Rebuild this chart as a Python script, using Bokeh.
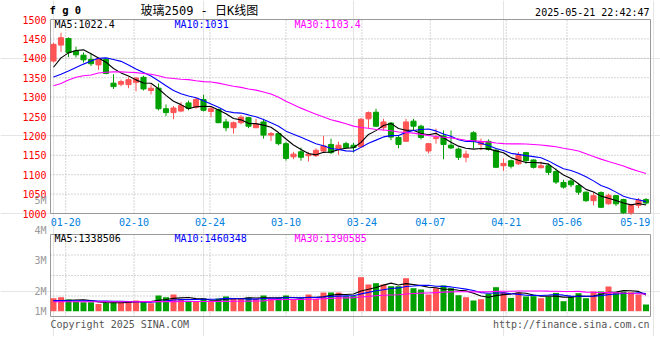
import numpy as np
from bokeh.plotting import figure
from bokeh.models import Range1d
from bokeh.embed import file_html
from bokeh.resources import INLINE
from bokeh.core.properties import value

# ---------------- data ----------------
dates = ["01-16", "01-17", "01-20", "01-21", "01-22", "01-23", "01-24", "01-27",
         "02-05", "02-06", "02-07",
         "02-10", "02-11", "02-12", "02-13", "02-14",
         "02-17", "02-18", "02-19", "02-20", "02-21",
         "02-24", "02-25", "02-26", "02-27", "02-28",
         "03-03", "03-04", "03-05", "03-06", "03-07",
         "03-10", "03-11", "03-12", "03-13", "03-14",
         "03-17", "03-18", "03-19", "03-20", "03-21",
         "03-24", "03-25", "03-26", "03-27", "03-28",
         "03-31", "04-01", "04-02", "04-03",
         "04-07", "04-08", "04-09", "04-10", "04-11",
         "04-14", "04-15", "04-16", "04-17", "04-18",
         "04-21", "04-22", "04-23", "04-24", "04-25",
         "04-28", "04-29", "04-30",
         "05-06", "05-07", "05-08", "05-09",
         "05-12", "05-13", "05-14", "05-15", "05-16",
         "05-19", "05-20", "05-21"]

opens = [1393, 1434, 1451, 1419, 1408, 1397, 1383, 1397, 1336, 1333,
         1332, 1338, 1351, 1317, 1323, 1270, 1260, 1264, 1285, 1274,
         1294, 1263, 1268, 1236, 1221, 1234, 1247, 1221, 1236, 1202,
         1206, 1180, 1146, 1159, 1149, 1149, 1161, 1178, 1166, 1180,
         1176, 1172, 1244, 1261, 1221, 1233, 1196, 1186, 1238, 1225,
         1161, 1193, 1200, 1176, 1166, 1145, 1208, 1178, 1186, 1163,
         1123, 1136, 1128, 1157, 1138, 1118, 1123, 1108, 1080, 1084,
         1072, 1055, 1033, 1054, 1025, 1046, 1036, 1002, 1021, 1036]
highs = [1440, 1466, 1454, 1430, 1415, 1411, 1402, 1400, 1359, 1345,
         1351, 1352, 1355, 1332, 1335, 1281, 1277, 1287, 1291, 1300,
         1306, 1277, 1270, 1244, 1237, 1254, 1248, 1244, 1244, 1210,
         1208, 1185, 1159, 1170, 1159, 1168, 1200, 1193, 1185, 1185,
         1182, 1246, 1263, 1270, 1244, 1236, 1202, 1244, 1244, 1229,
         1182, 1219, 1214, 1214, 1170, 1162, 1212, 1193, 1191, 1168,
         1142, 1139, 1159, 1159, 1139, 1134, 1129, 1116, 1087, 1091,
         1076, 1057, 1054, 1057, 1051, 1048, 1038, 1025, 1040, 1040]
lows = [1389, 1416, 1403, 1402, 1389, 1380, 1370, 1359, 1321, 1328,
        1323, 1315, 1317, 1307, 1266, 1251, 1243, 1261, 1266, 1270,
        1263, 1248, 1233, 1212, 1206, 1230, 1220, 1221, 1193, 1187,
        1176, 1136, 1140, 1136, 1134, 1146, 1159, 1153, 1151, 1168,
        1157, 1169, 1220, 1223, 1214, 1189, 1168, 1185, 1214, 1191,
        1155, 1180, 1140, 1166, 1138, 1132, 1168, 1163, 1162, 1119,
        1110, 1116, 1125, 1128, 1116, 1116, 1099, 1076, 1064, 1068,
        1048, 1030, 1021, 1014, 1023, 1019, 999, 996, 1014, 1023]
closes = [1436, 1453, 1415, 1409, 1396, 1386, 1398, 1361, 1327, 1340,
          1345, 1349, 1321, 1323, 1270, 1260, 1272, 1278, 1271, 1294,
          1266, 1270, 1234, 1221, 1234, 1248, 1225, 1230, 1202, 1206,
          1180, 1142, 1153, 1145, 1153, 1163, 1174, 1157, 1176, 1170,
          1170, 1243, 1260, 1225, 1236, 1197, 1178, 1236, 1225, 1196,
          1180, 1196, 1178, 1169, 1145, 1153, 1185, 1185, 1165, 1119,
          1129, 1122, 1152, 1136, 1119, 1123, 1106, 1081, 1068, 1074,
          1055, 1033, 1046, 1016, 1047, 1025, 1002, 1021, 1034, 1027]
volumes = [1074000, 1157000, 967000, 802000, 744000, 744000, 603000, 686000, 744000, 744000,
           851000, 884000, 802000, 661000, 1298000, 1157000, 1380000, 1017000, 802000, 851000,
           1050000, 802000, 1050000, 1215000, 1050000, 1050000, 1132000, 1017000, 1298000, 1050000,
           1074000, 1298000, 967000, 1050000, 1380000, 1017000, 1545000, 1545000, 1545000, 1240000,
           1240000, 2810000, 2207000, 2314000, 2207000, 2066000, 2066000, 2727000, 1901000, 1793000,
           1380000, 1901000, 2124000, 1901000, 1322000, 1157000, 884000, 992000, 1430000, 1983000,
           1570000, 1099000, 1545000, 1215000, 1240000, 1074000, 1182000, 1512000, 826000, 1215000,
           1488000, 1074000, 1628000, 1628000, 2041000, 1570000, 1628000, 1570000, 1380000, 554000]

ma5_head = [1377, 1401, 1414, 1420]
ma10_head = [1352, 1359, 1367, 1376, 1385, 1393, 1400, 1401, 1397]
ma30_head = [1329, 1335, 1344, 1351, 1355, 1357, 1362, 1364, 1365, 1365,
             1364, 1363, 1361, 1359, 1355, 1350, 1348, 1346, 1345, 1342,
             1340, 1339, 1336, 1332, 1328, 1325, 1321, 1318, 1313]
vma5_head = [850000, 870000, 900000, 930000]
vma10_head = [870000, 870000, 860000, 860000, 850000, 850000, 840000, 830000, 820000]
vma30_head = [780000, 780000, 780000, 780000, 780000, 780000, 780000, 780000, 780000, 780000,
              780000, 780000, 790000, 790000, 790000, 790000, 790000, 800000, 800000, 800000,
              800000, 800000, 810000, 810000, 820000, 820000, 830000, 840000, 850000]

price_ticks = [1000, 1050, 1100, 1150, 1200, 1250, 1300, 1350, 1400, 1450, 1500]
date_ticks = ["01-20", "02-10", "02-24", "03-10", "03-24", "04-07", "04-21", "05-06", "05-19"]
grid_dates = ["01-20", "02-10", "02-24", "03-10", "03-24", "04-07", "04-21", "05-06"]
vol_labels = ["5M", "4M", "3M", "2M", "1M"]
vol_label_values = [5, 4, 3, 2, 1]

title_code = "f g 0"
title_text = "玻璃2509 - 日K线图"
timestamp = "2025-05-21 22:42:47"
price_ma_texts = ["MA5:1022.4", "MA10:1031", "MA30:1103.4"]
vol_ma_texts = ["MA5:1338506", "MA10:1460348", "MA30:1390585"]
footer_left = "Copyright 2025 SINA.COM"
footer_right = "http://finance.sina.com.cn"

# ---------------- helpers ----------------
def moving(vals, head, w):
    vals = np.asarray(vals, float)
    out = np.empty(len(vals))
    out[:len(head)] = head
    for i in range(len(head), len(vals)):
        out[i] = vals[i - w + 1:i + 1].mean()
    return out

MONO = "DejaVu Sans Mono"
MIXED = "DejaVu Sans Mono, Noto Sans CJK SC"
RED = "#ff5555"
GREEN = "#00a000"
GRID = "#aaaaaa"
FRAME = "#999999"
MA_COLORS = ["#000000", "#0000ff", "#ff00ff"]
DOT = "1 2"

n = len(dates)
xs = np.arange(n)
o = np.array(opens, float)
c = np.array(closes, float)
colors = np.where(c >= o, RED, GREEN)

# ---------------- layout (page pixels) ----------------
W, H = 660, 336
PANEL_L, PANEL_R = 50, 650
P_TOP, P_BOT = 19, 213                 # price panel
V_TOP, V_BASE, V_BOT = 234, 310.7, 316  # volume panel (baseline of bars at V_BASE)
VOL_PX_PER_LOT = 12.1 / 1e6
LAB0, LABK = 351.0, 30.2               # Sina's own scale for the volume tick labels

X0, X1 = -0.4, n - 0.4                 # bar index range covered by the panels
ux = (X1 - X0) / (PANEL_R - PANEL_L)   # index units per pixel
pu = (price_ticks[-1] - price_ticks[0]) / (P_BOT - P_TOP)


def x_at(px):
    return X0 + (px - PANEL_L) * ux


def price_at(py):
    return price_ticks[-1] - (py - P_TOP) * pu


def vol_at(py):
    return (V_BASE - py) / VOL_PX_PER_LOT


def lab_at(py):
    return (LAB0 - py) / LABK


idx = {d: i for i, d in enumerate(dates)}


# Sina spreads its date grid over the whole panel width (index 0..n-1 -> left..right edge)
def grid_pos(d):
    return X0 + idx[d] * (X1 - X0) / (n - 1)


tick_pos = [grid_pos(d) for d in date_ticks]
grid_x = [grid_pos(d) for d in grid_dates]

p = figure(width=W, height=H,
           x_range=Range1d(x_at(0), x_at(W)), y_range=Range1d(price_at(H), price_at(0)),
           x_axis_location=None, y_axis_location=None,
           output_backend="svg", toolbar_location=None,
           min_border=0, min_border_left=0, min_border_right=0,
           min_border_top=0, min_border_bottom=0)
p.extra_y_ranges = {"vol": Range1d(vol_at(H), vol_at(0)),
                    "vlab": Range1d(lab_at(H), lab_at(0))}
p.outline_line_color = None
p.background_fill_color = "white"
p.border_fill_color = "white"

# ---- price panel grid + frame
p.segment(x0=X0, x1=X1, y0=price_ticks[1:-1], y1=price_ticks[1:-1],
          line_color=GRID, line_dash=DOT, line_width=1)
p.segment(x0=grid_x, x1=grid_x, y0=price_ticks[0], y1=price_ticks[-1],
          line_color=GRID, line_dash=DOT, line_width=1)
p.quad(left=X0, right=X1, bottom=price_ticks[0], top=price_ticks[-1],
       fill_color=None, line_color=FRAME, line_width=1)

# ---- candles
src = dict(x=xs, h=highs, l=lows, top=np.maximum(o, c), bot=np.minimum(o, c),
           color=colors, vol=volumes,
           ma5=moving(closes, ma5_head, 5), ma10=moving(closes, ma10_head, 10),
           ma30=moving(closes, ma30_head, 30),
           vma5=moving(volumes, vma5_head, 5), vma10=moving(volumes, vma10_head, 10),
           vma30=moving(volumes, vma30_head, 30))
from bokeh.models import ColumnDataSource
src = ColumnDataSource(src)
p.segment(x0="x", y0="l", x1="x", y1="h", line_color="color", line_width=1, source=src)
p.vbar(x="x", width=0.68, top="top", bottom="bot", fill_color="color",
       line_color="color", line_width=1, source=src)
for col, clr in zip(["ma5", "ma10", "ma30"], MA_COLORS):
    p.line("x", col, line_color=clr, line_width=1.1, source=src)

# ---- volume panel grid + frame
v_lo, v_hi = vol_at(V_BOT), vol_at(V_TOP)
p.segment(x0=grid_x, x1=grid_x, y0=v_lo, y1=v_hi, y_range_name="vol",
          line_color=GRID, line_dash=DOT, line_width=1)
vgrid_y = [vol_at(V_TOP + k * (V_BOT - V_TOP) / 4) for k in (1, 2, 3)]
p.segment(x0=X0, x1=X1, y0=vgrid_y, y1=vgrid_y, y_range_name="vol",
          line_color=GRID, line_dash=DOT, line_width=1)
p.quad(left=X0, right=X1, bottom=v_lo, top=v_hi, y_range_name="vol",
       fill_color=None, line_color=FRAME, line_width=1)

p.vbar(x="x", width=0.8, top="vol", bottom=0, y_range_name="vol",
       fill_color="color", line_color=None, source=src)
for col, clr in zip(["vma5", "vma10", "vma30"], MA_COLORS):
    p.line("x", col, y_range_name="vol", line_color=clr, line_width=1.1, source=src)

# ---- texts
def txt(x, y, text, color, align="left", font=MONO, size="10px", style="normal", rng="default"):
    p.text(x=x, y=y, text=text, text_color=color, text_align=align,
           text_baseline="middle", text_font=value(font), text_font_size=value(size),
           text_font_style=style, y_range_name=rng)

# price tick labels (left), date labels (below price panel)
txt(X0 - 4 * ux, price_ticks, [str(t) for t in price_ticks], "#ff0000", align="right")
txt(tick_pos, price_at(P_BOT + 8.5), date_ticks, "#0080e0", align="center")

# volume tick labels on Sina's own scale; the lowest one is kept inside the panel
lab_y = [max(val, lab_at(V_BOT - 5)) for val in vol_label_values]
txt(X0 - 4 * ux, lab_y, vol_labels, "#999999", align="right", rng="vlab")

# moving-average legends
ma_x = [X0 + (4 + 120 * k) * ux for k in range(3)]
txt(ma_x, price_at(P_TOP + 5), price_ma_texts, MA_COLORS)
txt(ma_x, vol_at(V_TOP + 4), vol_ma_texts, MA_COLORS, rng="vol")

# header
txt([X0 - 1 * ux], [price_at(P_TOP - 9.5)], [title_code], "#000000", size="10.5px", style="bold")
txt([X0 + 90 * ux], [price_at(P_TOP - 9)], [title_text], "#000000", font=MIXED, size="12px")
txt([X1 - 1 * ux], [price_at(P_TOP - 7)], [timestamp], "#000000", align="right")

# footer
txt([X0], [vol_at(V_BOT + 7.5)], [footer_left], "#555555", rng="vol")
txt([X1 - 1 * ux], [vol_at(V_BOT + 7.5)], [footer_right], "#555555", align="right", rng="vol")

open("out.html", "w").write(file_html(p, INLINE))
